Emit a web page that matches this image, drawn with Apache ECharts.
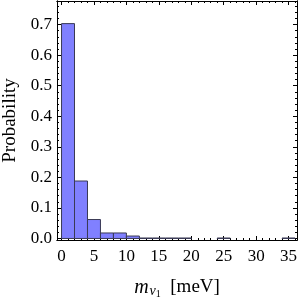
<!DOCTYPE html>
<html><head><meta charset="utf-8">
<script src="https://cdn.jsdelivr.net/npm/echarts@6/dist/echarts.min.js"></script>
<style>html,body{margin:0;padding:0;background:#fff}#c{width:300px;height:300px}</style>
</head><body><div id="c"></div>
<script>
const binLo = [0, 2, 4, 6, 8, 10, 12, 14, 16, 18, 24, 34];
const binHi = [2, 4, 6, 8, 10, 12, 14, 16, 18, 20, 26, 36];
const probability = [0.703, 0.188, 0.062, 0.018, 0.018, 0.008, 0.0015, 0.0015, 0.0015, 0.0015, 0.0015, 0.0015];
const xTicks = [0, 5, 10, 15, 20, 25, 30, 35];
const yTicks = [0, 0.1, 0.2, 0.3, 0.4, 0.5, 0.6, 0.7];
const xMinor = []; for (let i = 0; i <= 36; i++) xMinor.push(i);
const yMinor = []; for (let i = 0; i <= 38; i++) yMinor.push(+(i * 0.02).toFixed(2));

const XMIN = -0.7, XMAX = 36.3, YMIN = -0.005, YMAX = 0.777;
const font = 'Liberation Serif';
const lbl = {fontFamily: font, fontSize: 17, color: '#000'};

function xa(pos, ticks, len, labels, extra) {
  return Object.assign({
    type: 'value', position: pos, min: XMIN, max: XMAX,
    axisLine: {show: true, onZero: false, lineStyle: {color: '#000', width: 1}},
    axisTick: {show: true, inside: true, length: len, customValues: ticks, lineStyle: {color: '#000', width: 1}},
    axisLabel: labels ? Object.assign({show: true, margin: 8, customValues: ticks, formatter: v => String(Math.round(v))}, lbl) : {show: false},
    splitLine: {show: false}
  }, extra || {});
}
function ya(pos, ticks, len, labels, extra) {
  return Object.assign({
    type: 'value', position: pos, min: YMIN, max: YMAX,
    axisLine: {show: true, onZero: false, lineStyle: {color: '#000', width: 1}},
    axisTick: {show: true, inside: true, length: len, customValues: ticks, lineStyle: {color: '#000', width: 1}},
    axisLabel: labels ? Object.assign({show: true, margin: 5, customValues: ticks, formatter: v => v.toFixed(1)}, lbl) : {show: false},
    splitLine: {show: false}
  }, extra || {});
}

const chart = echarts.init(document.getElementById('c'), null, {renderer: 'canvas'});
chart.setOption({
  animation: false,
  grid: {left: 57, right: 3, top: 1, bottom: 60, containLabel: false, outerBoundsMode: 'none'},
  xAxis: [
    xa('bottom', xTicks, 4, true, {
      name: '{m|m}{nu|ν}{one|1}{u|  [meV]}', nameLocation: 'middle', nameGap: 36,
      nameTextStyle: {fontFamily: font, fontSize: 19, color: '#000',
        rich: {
          m: {fontFamily: font, fontSize: 20, fontStyle: 'italic', color: '#000'},
          nu: {fontFamily: font, fontSize: 14, fontStyle: 'italic', color: '#000', padding: [8, 0, 0, 1]},
          one: {fontFamily: font, fontSize: 10, color: '#000', padding: [13, 0, 0, 0]},
          u: {fontFamily: font, fontSize: 19, color: '#000'}
        }}
    }),
    xa('bottom', xMinor, 2, false),
    xa('top', xTicks, 4, false),
    xa('top', xMinor, 2, false)
  ],
  yAxis: [
    ya('left', yTicks, 4, true, {
      name: 'Probability', nameLocation: 'middle', nameGap: 33,
      nameTextStyle: {fontFamily: font, fontSize: 19, color: '#000'}
    }),
    ya('left', yMinor, 2, false),
    ya('right', yTicks, 4, false),
    ya('right', yMinor, 2, false)
  ],
  series: [{
    type: 'custom', xAxisIndex: 0, yAxisIndex: 0,
    data: binLo.map((lo, i) => [lo, binHi[i], probability[i]]),
    encode: {x: [0, 1], y: 2},
    renderItem: function (params, api) {
      const p0 = api.coord([api.value(0), 0]);
      const p1 = api.coord([api.value(1), api.value(2)]);
      return {
        type: 'rect',
        shape: {x: p0[0], y: p1[1], width: p1[0] - p0[0], height: p0[1] - p1[1]},
        style: {fill: '#8080ff', stroke: '#3a3a55', lineWidth: 1}
      };
    }
  }]
});
</script></body></html>
